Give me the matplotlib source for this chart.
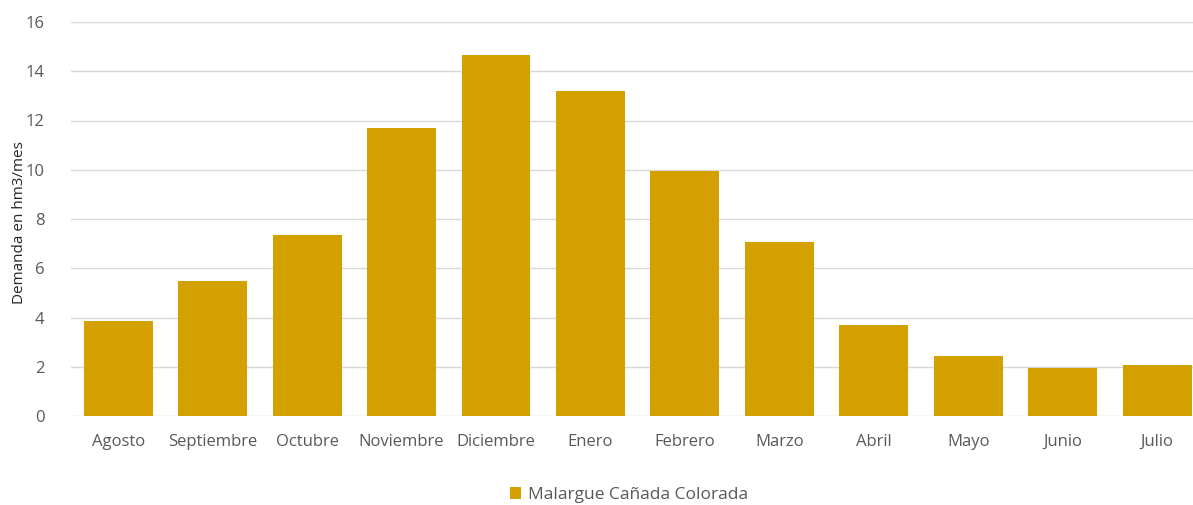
import matplotlib.pyplot as plt
import numpy as np

months = ["Agosto", "Septiembre", "Octubre", "Noviembre", "Diciembre", "Enero",
          "Febrero", "Marzo", "Abril", "Mayo", "Junio", "Julio"]
demanda = [3.86, 5.49, 7.36, 11.7, 14.67, 13.2, 9.96, 7.07, 3.70, 2.44, 1.95, 2.07]
y_ticks = [0, 2, 4, 6, 8, 10, 12, 14, 16]
series_name = "Malargue Cañada Colorada"

plt.rcParams["font.family"] = ["Open Sans", "DejaVu Sans"]

W, H = 1193, 505
fig = plt.figure(figsize=(W / 100, H / 100), dpi=100)
ax = fig.add_axes([71 / W, 89 / H, 1 - 71 / W, (416 - 22) / H])

x = np.arange(len(months))
ax.bar(x, demanda, width=0.73, color="#D4A000", label=series_name, zorder=3)

ax.set_ylim(0, 16)
ax.set_xlim(-0.5, 11.38)
ax.set_yticks(y_ticks)
ax.set_xticks(x)
ax.set_xticklabels(months)
ax.grid(axis="y", color="#D9D9D9", linewidth=1, zorder=0)
for s in ax.spines.values():
    s.set_visible(False)
ax.tick_params(axis="both", length=0, labelsize=12, colors="#595959")
ax.tick_params(axis="x", pad=13)
ax.tick_params(axis="y", pad=19)
ax.set_ylabel("Demanda en hm3/mes", fontsize=11, color="#262626", labelpad=0)
ax.yaxis.set_label_coords(-0.039, 0.49)

fig.legend(loc="center", bbox_to_anchor=((508 + 750) / 2 / W, 1 - 495 / H),
           frameon=False, fontsize=12.5, handlelength=0.65, handleheight=0.65,
           handletextpad=0.4, labelcolor="#595959")

fig.savefig("out.png", dpi=100)
